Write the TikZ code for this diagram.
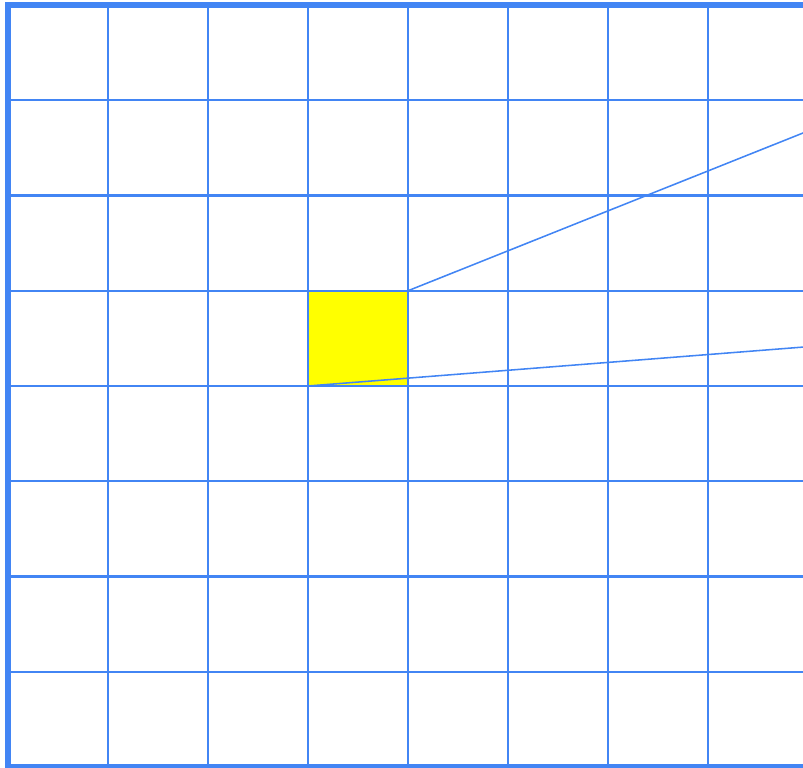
\documentclass[tikz,border=0pt]{standalone}
\usepackage{xcolor}
\usepackage{tikz}
\usetikzlibrary{calc}
\definecolor{gridblue}{HTML}{4285F4}
\definecolor{cellyellow}{HTML}{FFFF00}

\begin{document}
\begin{tikzpicture}[
  x=0.025cm, y=-0.025cm,
  frame/.style={draw=gridblue, line width=4.3pt},
  gridln/.style={draw=gridblue, line width=1.6pt},
  ray/.style={draw=gridblue, line width=1.1pt},
  hit/.style={fill=cellyellow, draw=none}
]
\def\cw{100}
\def\ch{95.25}
\useasboundingbox (0,0) rectangle (803,768);
\clip (0,0) rectangle (803,768);

% ===== selected cell =====
\fill[hit] (308,{5+3*\ch}) rectangle (408,{5+4*\ch});

% ===== grid =====
\foreach \k in {1,...,7} {
  \draw[gridln] ({8+\k*\cw},5) -- ({8+\k*\cw},767);
  \draw[gridln] (8,{5+\k*\ch}) -- (808,{5+\k*\ch});
}
\draw[frame] (8,5) rectangle (808,767);

% ===== rays from the cell =====
\coordinate (cellNE) at (408,{5+3*\ch});
\coordinate (cellSW) at (308,{5+4*\ch});
\coordinate (rayA) at (804,132.6);
\coordinate (rayB) at (804,347);
\draw[ray] (cellNE) -- (rayA);
\draw[ray] (cellSW) -- (rayB);
\end{tikzpicture}
\end{document}
